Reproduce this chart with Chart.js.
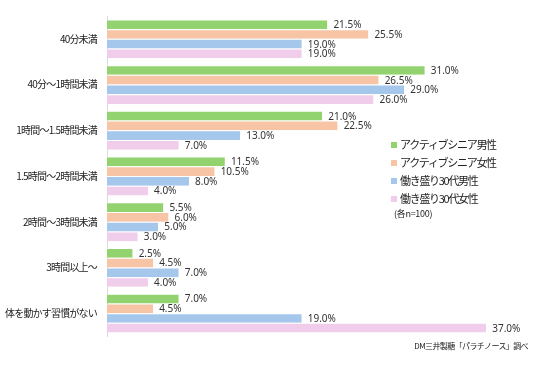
<!DOCTYPE html>
<html>
<head>
<meta charset="utf-8">
<script src="https://cdn.jsdelivr.net/npm/chart.js@4"></script>
<style>
    html, body { margin: 0; padding: 0; background: #fff; }
    #wrap { position: relative; width: 536px; height: 366px; font-family: "Noto Sans CJK JP", sans-serif; color: #222; }
    #legend { position: absolute; left: 391px; top: 135px; font-size: 11px; letter-spacing: -1.3px; }
    #legend .item { height: 18px; line-height: 18px; white-space: nowrap; }
    #legend .box { display: inline-block; width: 6px; height: 6px; margin-right: 3px; vertical-align: 1px; }
    #nota { position: absolute; left: 394px; top: 207px; font-size: 9px; letter-spacing: -0.3px; }
    #fuente { position: absolute; right: 8px; top: 340px; font-size: 8px; letter-spacing: -0.6px; }
</style>
</head>
<body>
<div id="wrap">
    <canvas id="grafico" width="536" height="366"></canvas>
    <div id="legend"></div>
    <div id="nota">(各n=100)</div>
    <div id="fuente">DM三井製糖「パラチノース」調べ</div>
</div>
<script>
/* ===== datos ===== */
const CATEGORIAS = [
    "40分未満",
    "40分～1時間未満",
    "1時間～1.5時間未満",
    "1.5時間～2時間未満",
    "2時間～3時間未満",
    "3時間以上～",
    "体を動かす習慣がない"
];

const SERIES = [
    "アクティブシニア男性",
    "アクティブシニア女性",
    "働き盛り30代男性",
    "働き盛り30代女性"
];

const SENIOR_HOMBRE = [21.5, 31.0, 21.0, 11.5, 5.5, 2.5, 7.0];
const SENIOR_MUJER  = [25.5, 26.5, 22.5, 10.5, 6.0, 4.5, 4.5];
const TREINTA_HOMBRE = [19.0, 29.0, 13.0, 8.0, 5.0, 7.0, 19.0];
const TREINTA_MUJER  = [19.0, 26.0, 7.0, 4.0, 3.0, 4.0, 37.0];

const COLORES = ["#92d36f", "#f7c4a6", "#a6c7ec", "#f1cdec"];

/* ===== leyenda html ===== */
const leg = document.getElementById("legend");
SERIES.forEach((s, i) => {
    const d = document.createElement("div");
    d.className = "item";
    d.innerHTML = `<span class="box" style="background:${COLORES[i]}"></span>${s}`;
    leg.appendChild(d);
});

/* espaciado de letras más estrecho para las etiquetas del eje */
const espaciadoPlugin = {
    id: "espaciado",
    beforeDraw(chart) { chart.ctx.letterSpacing = "-0.8px"; },
    afterDraw(chart) { chart.ctx.letterSpacing = "0px"; }
};

/* etiquetas de valor al final de cada barra */
const etiquetasPlugin = {
    id: "etiquetas",
    afterDatasetsDraw(chart) {
        const ctx = chart.ctx;
        ctx.save();
        ctx.letterSpacing = "0px";
        ctx.font = '10px "Noto Sans", sans-serif';
        ctx.fillStyle = "#333";
        ctx.textBaseline = "middle";
        ctx.textAlign = "left";
        chart.data.datasets.forEach((ds, i) => {
            const meta = chart.getDatasetMeta(i);
            meta.data.forEach((bar, j) => {
                ctx.fillText(ds.data[j].toFixed(1) + "%", bar.x + 6, bar.y + 1);
            });
        });
        ctx.restore();
    }
};

const datos = [SENIOR_HOMBRE, SENIOR_MUJER, TREINTA_HOMBRE, TREINTA_MUJER];

new Chart(document.getElementById("grafico"), {
    type: "bar",
    data: {
        labels: CATEGORIAS,
        datasets: SERIES.map((s, i) => ({
            label: s,
            data: datos[i],
            backgroundColor: COLORES[i],
            borderColor: "#ffffff",
            borderWidth: { top: 1, bottom: 0, left: 0, right: 0 },
            borderSkipped: false,
            categoryPercentage: 0.85,
            barPercentage: 1.0
        }))
    },
    options: {
        indexAxis: "y",
        responsive: false,
        animation: false,
        layout: { padding: { top: 10, bottom: 30, right: 19, left: 0 } },
        plugins: {
            legend: { display: false },
            tooltip: { enabled: false }
        },
        scales: {
            x: { display: false, min: 0, max: 40 },
            y: {
                afterFit(scale) { scale.width = 107; },
                grid: { display: false, drawTicks: false },
                border: { display: true, color: "#d9d9d9", width: 1 },
                ticks: {
                    padding: 10,
                    color: "#222",
                    font: { family: '"Noto Sans CJK JP", sans-serif', size: 10 }
                }
            }
        }
    },
    plugins: [espaciadoPlugin, etiquetasPlugin]
});
</script>
</body>
</html>
